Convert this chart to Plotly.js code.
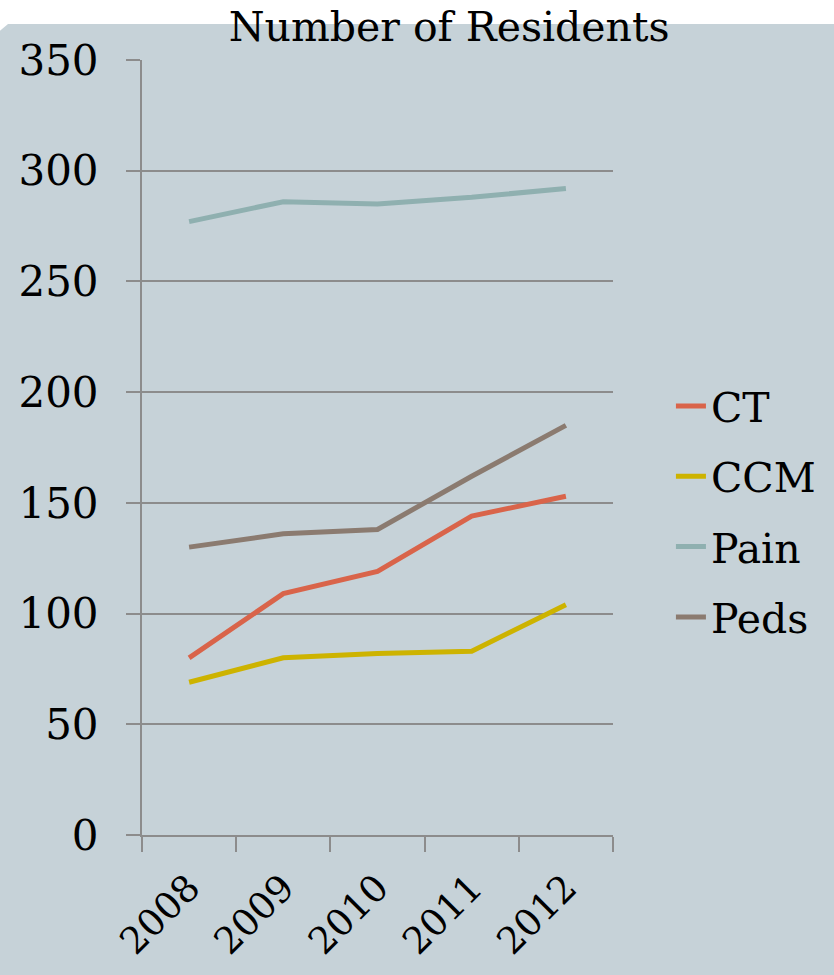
<!DOCTYPE html>
<html>
<head>
<meta charset="utf-8">
<script src="https://cdn.plot.ly/plotly-3.0.1.min.js"></script>
<style>html,body{margin:0;padding:0;background:#fff;}#chart{width:834px;height:975px;}</style>
</head>
<body>
<div id="chart"></div>
<script>
const years = ["2008", "2009", "2010", "2011", "2012"];
const seriesNames = ["CT", "CCM", "Pain", "Peds"];
const ct = [80, 109, 119, 144, 153];
const ccm = [69, 80, 82, 83, 104];
const pain = [277, 286, 285, 288, 292];
const peds = [130, 136, 138, 162, 185];
const colors = ["#d9644a", "#cdb300", "#8fb0b0", "#8b7b70"];
const yTicks = [0, 50, 100, 150, 200, 250, 300, 350];

const values = [ct, ccm, pain, peds];
const traces = values.map((v, i) => ({
  type: "scatter",
  mode: "lines",
  x: years,
  y: v,
  name: seriesNames[i],
  legendgroup: seriesNames[i],
  line: {color: colors[i], width: 5}
}));

const font = "DejaVu Serif, serif";
const layout = {
  width: 834, height: 975,
  margin: {l: 142, r: 221, t: 60, b: 140},
  paper_bgcolor: "#c6d2d8",
  plot_bgcolor: "rgba(0,0,0,0)",
  font: {family: font, color: "#000"},
  showlegend: true,
  title: {text: "Number of Residents", font: {family: font, size: 41, color: "#000"},
          x: 0.652, xref: "paper", xanchor: "center", y: 1 - 27/975, yref: "container", yanchor: "middle"},
  xaxis: {
    type: "category", tickson: "boundaries", ticks: "outside", ticklen: 15, tickwidth: 2,
    tickcolor: "#8c8c8c", showline: true, linecolor: "#8c8c8c", linewidth: 2,
    showgrid: false, tickangle: -45, tickfont: {family: font, size: 37, color: "#000"},
    ticklabelstandoff: 14,
    range: [-0.5, 4.5], fixedrange: true
  },
  yaxis: {
    range: [0, 350], tickvals: yTicks, ticktext: yTicks.map(String),
    ticks: "outside", ticklen: 14, tickwidth: 2, tickcolor: "#8c8c8c",
    showline: true, linecolor: "#8c8c8c", linewidth: 2,
    showgrid: true, gridcolor: "#8c8c8c", gridwidth: 2, zeroline: false,
    ticklabelstandoff: 19,
    tickfont: {family: font, size: 42, color: "#000"}
  },
  legend: {
    x: 1.123, xanchor: "left", y: 0.417, yanchor: "middle",
    bgcolor: "rgba(0,0,0,0)", font: {family: font, size: 41, color: "#000"},
    traceorder: "grouped", tracegroupgap: 14, itemwidth: 30
  },
  shapes: [
    {type: "rect", xref: "paper", yref: "paper", x0: -0.31, x1: 1.48, y0: 1.0465, y1: 1.09,
     fillcolor: "#ffffff", line: {width: 0}, layer: "below"},
    {type: "path", xref: "paper", yref: "paper",
     path: "M -0.31 1.0465 L " + ((8-142)/471) + " 1.0465 L -0.31 " + ((835-34)/775) + " Z",
     fillcolor: "#ffffff", line: {width: 0}, layer: "below"}
  ]
};

Plotly.newPlot("chart", traces, layout, {displayModeBar: false, staticPlot: true});
</script>
</body>
</html>
